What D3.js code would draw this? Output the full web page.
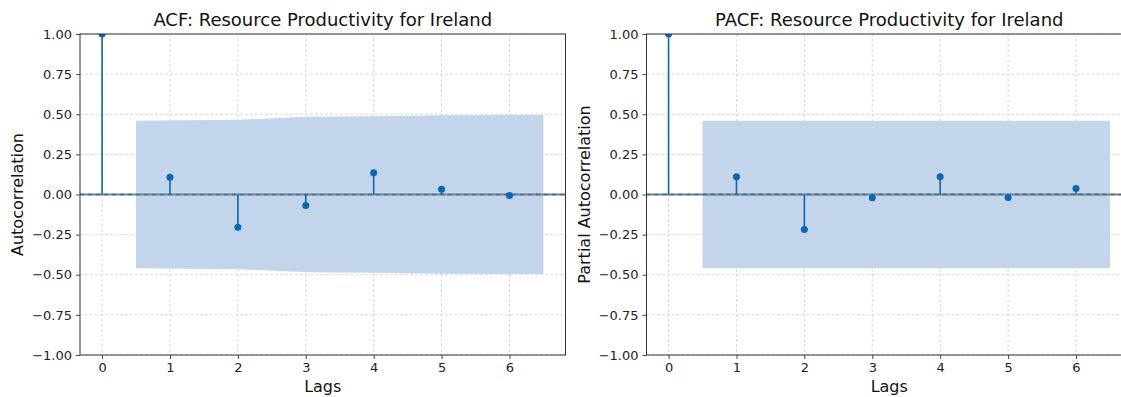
<!DOCTYPE html>
<html>
<head>
<meta charset="utf-8">
<script src="https://cdn.jsdelivr.net/npm/d3@7"></script>
<style>
  body { margin: 0; background: #fff; }
  svg { font-family: "DejaVu Sans", sans-serif; }
</style>
</head>
<body>
<div id="chart"></div>
<script>
// lags shown on both panels
const lags = [0, 1, 2, 3, 4, 5, 6];
const yTicks = [-1.0, -0.75, -0.5, -0.25, 0, 0.25, 0.5, 0.75, 1.0];

// ACF values
const acfValues = [1.0, 0.108, -0.204, -0.069, 0.135, 0.033, -0.006];
// confidence band edges (x = 0.5, 2, 3, 4, 5, 6.5)
const acfBandX = [0.5, 2, 3, 4, 5, 6.5];
const acfBandHi = [0.459, 0.465, 0.484, 0.487, 0.494, 0.495];

// PACF values
const pacfValues = [1.0, 0.110, -0.218, -0.021, 0.110, -0.019, 0.037];
const pacfBandX = [0.5, 2, 3, 4, 5, 6.5];
const pacfBandHi = [0.459, 0.459, 0.459, 0.459, 0.459, 0.459];

const W = 1121, H = 397;
const blue = "#0b67b2";

const svg = d3.select("#chart").append("svg")
  .attr("width", W).attr("height", H);

function panel(opts) {
  const left = opts.left, top = 34, width = opts.width, height = 321;
  const x = d3.scaleLinear().domain([-0.325, 6.825]).range([0, width]);
  const y = d3.scaleLinear().domain([-1, 1]).range([height, 0]);

  const g = svg.append("g").attr("transform", `translate(${left},${top})`);
  const clipId = "clip-" + opts.id;
  g.append("clipPath").attr("id", clipId)
    .append("rect").attr("width", width).attr("height", height);

  // grid
  g.append("g").selectAll("line").data(lags).join("line")
    .attr("x1", d => x(d)).attr("x2", d => x(d))
    .attr("y1", 0).attr("y2", height)
    .attr("stroke", "#d0d0d0").attr("stroke-width", 0.8).attr("stroke-dasharray", "3,2");
  g.append("g").selectAll("line").data(yTicks).join("line")
    .attr("x1", 0).attr("x2", width)
    .attr("y1", d => y(d)).attr("y2", d => y(d))
    .attr("stroke", "#d0d0d0").attr("stroke-width", 0.8).attr("stroke-dasharray", "3,2");

  const plot = g.append("g").attr("clip-path", `url(#${clipId})`);

  // confidence band
  const band = opts.bandX.map((bx, i) => ({x: bx, hi: opts.bandHi[i]}));
  plot.append("path").datum(band)
    .attr("fill", "#c3d5ea")
    .attr("d", d3.area().x(d => x(d.x)).y0(d => y(-d.hi)).y1(d => y(d.hi)));

  // zero line
  plot.append("line")
    .attr("x1", 0).attr("x2", width).attr("y1", y(0)).attr("y2", y(0))
    .attr("stroke", "#808080").attr("stroke-width", 2);
  plot.append("line")
    .attr("x1", 0).attr("x2", width).attr("y1", y(0)).attr("y2", y(0))
    .attr("stroke", "#1f77b4").attr("stroke-width", 1.3).attr("stroke-dasharray", "4,4");

  // stems
  plot.selectAll(".stem").data(opts.values).join("line")
    .attr("class", "stem")
    .attr("x1", (d, i) => x(lags[i])).attr("x2", (d, i) => x(lags[i]))
    .attr("y1", y(0)).attr("y2", d => y(d))
    .attr("stroke", blue).attr("stroke-width", 1.6);
  plot.selectAll(".dot").data(opts.values).join("circle")
    .attr("class", "dot")
    .attr("cx", (d, i) => x(lags[i])).attr("cy", d => y(d))
    .attr("r", 3.5).attr("fill", blue);

  // axes
  const xAxis = g.append("g").attr("transform", `translate(0,${height})`)
    .call(d3.axisBottom(x).tickValues(lags).tickFormat(d3.format("d")).tickSize(4).tickPadding(4));
  const yAxis = g.append("g")
    .call(d3.axisLeft(y).tickValues(yTicks)
      .tickFormat(d => d3.format(".2f")(d).replace("-", "\u2212")).tickSize(4).tickPadding(4));
  [xAxis, yAxis].forEach(a => {
    a.select(".domain").remove();
    a.selectAll("line").attr("stroke", "#333").attr("stroke-width", 0.9);
    a.selectAll("text").attr("font-size", 13).attr("fill", "#222")
      .attr("font-family", "DejaVu Sans, sans-serif");
  });

  // frame
  g.append("rect").attr("width", width).attr("height", height)
    .attr("fill", "none").attr("stroke", "#333").attr("stroke-width", 1);

  // title & labels
  g.append("text").attr("x", width / 2).attr("y", -8)
    .attr("text-anchor", "middle").attr("font-size", 18).attr("fill", "#111")
    .text(opts.title);
  g.append("text").attr("x", width / 2).attr("y", height + 37)
    .attr("text-anchor", "middle").attr("font-size", 16).attr("fill", "#111")
    .text("Lags");
  g.append("text")
    .attr("transform", `translate(${opts.ylabelX - left},${height / 2}) rotate(-90)`)
    .attr("text-anchor", "middle").attr("font-size", 16).attr("fill", "#111")
    .text(opts.ylabel);
}

panel({
  id: "acf", left: 80, width: 485.5,
  values: acfValues, bandX: acfBandX, bandHi: acfBandHi,
  title: "ACF: Resource Productivity for Ireland",
  ylabel: "Autocorrelation", ylabelX: 23
});
panel({
  id: "pacf", left: 646.5, width: 485.5,
  values: pacfValues, bandX: pacfBandX, bandHi: pacfBandHi,
  title: "PACF: Resource Productivity for Ireland",
  ylabel: "Partial Autocorrelation", ylabelX: 590
});
</script>
</body>
</html>
